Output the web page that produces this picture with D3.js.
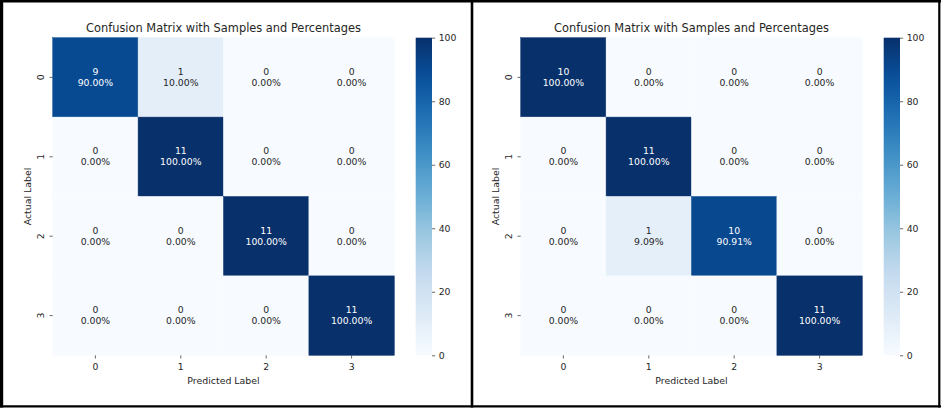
<!DOCTYPE html>
<html>
<head>
<meta charset="utf-8">
<script src="https://cdn.jsdelivr.net/npm/d3@7"></script>
<style>
  body { margin: 0; background: #fff; }
  text { font-family: "DejaVu Sans", sans-serif; fill: #262626; }
</style>
</head>
<body>
<svg width="941" height="411" viewBox="0 0 941 411"></svg>
<script>
// class labels and colorbar ticks
var labels = ["0", "1", "2", "3"];
var colorbarTicks = [0, 20, 40, 60, 80, 100];

// left matrix: sample counts and row percentages
var countsLeft = [
  [9, 1, 0, 0],
  [0, 11, 0, 0],
  [0, 0, 11, 0],
  [0, 0, 0, 11]
];
var pctLeft = [
  [90.00, 10.00, 0, 0],
  [0, 100.00, 0, 0],
  [0, 0, 100.00, 0],
  [0, 0, 0, 100.00]
];

// right matrix
var countsRight = [
  [10, 0, 0, 0],
  [0, 11, 0, 0],
  [0, 1, 10, 0],
  [0, 0, 0, 11]
];
var pctRight = [
  [100.00, 0, 0, 0],
  [0, 100.00, 0, 0],
  [0, 9.09, 90.91, 0],
  [0, 0, 0, 100.00]
];

var svg = d3.select("svg");

// matplotlib "Blues" is a linear ramp through the 9 brewer colours
var blues = d3.schemeBlues[9];
var color = d3.scaleLinear()
  .domain(d3.range(9).map(function(i) { return i * 100 / 8; }))
  .range(blues)
  .interpolate(d3.interpolateRgb);

function drawPanel(offsetX, counts, pcts, id) {
  var g = svg.append("g").attr("transform", "translate(" + offsetX + ",0)");

  var x = d3.scaleBand().domain(labels).range([52.7, 394.3]);
  var y = d3.scaleBand().domain(labels).range([37.7, 355.3]);

  // cells
  var cells = [];
  counts.forEach(function(row, i) {
    row.forEach(function(c, j) {
      cells.push({ r: labels[i], c: labels[j], n: c, p: pcts[i][j] });
    });
  });

  var cell = g.selectAll("g.cell").data(cells).enter().append("g").attr("class", "cell");
  cell.append("rect")
    .attr("x", function(d) { return x(d.c); })
    .attr("y", function(d) { return y(d.r); })
    .attr("width", x.bandwidth())
    .attr("height", y.bandwidth())
    .attr("fill", function(d) { return color(d.p); })
    .attr("stroke", function(d) { return color(d.p); })
    .attr("stroke-width", 0.5);

  function textFill(d) {
    var l = d3.hsl(color(d.p)).l;
    return d.p > 50 ? "#ffffff" : "#262626";
  }

  cell.append("text")
    .attr("x", function(d) { return x(d.c) + x.bandwidth() / 2; })
    .attr("y", function(d) { return y(d.r) + y.bandwidth() / 2 - 2.6; })
    .attr("text-anchor", "middle")
    .style("font-size", "9.3px")
    .style("fill", textFill)
    .text(function(d) { return d.n; });

  cell.append("text")
    .attr("x", function(d) { return x(d.c) + x.bandwidth() / 2; })
    .attr("y", function(d) { return y(d.r) + y.bandwidth() / 2 + 8.4; })
    .attr("text-anchor", "middle")
    .style("font-size", "9.3px")
    .style("fill", textFill)
    .text(function(d) { return d.p.toFixed(2) + "%"; });

  // x ticks
  labels.forEach(function(l) {
    var cx = x(l) + x.bandwidth() / 2;
    g.append("line").attr("x1", cx).attr("x2", cx).attr("y1", 355.3).attr("y2", 358.5)
      .attr("stroke", "#444").attr("stroke-width", 0.8);
    g.append("text").attr("x", cx).attr("y", 370)
      .attr("text-anchor", "middle").style("font-size", "9.3px").text(l);
  });

  // y ticks (rotated)
  labels.forEach(function(l) {
    var cy = y(l) + y.bandwidth() / 2;
    g.append("line").attr("x1", 49.5).attr("x2", 52.7).attr("y1", cy).attr("y2", cy)
      .attr("stroke", "#444").attr("stroke-width", 0.8);
    g.append("text")
      .attr("transform", "translate(44," + cy + ") rotate(-90)")
      .attr("text-anchor", "middle").style("font-size", "9.3px").text(l);
  });

  // axis labels and title
  g.append("text").attr("x", 223.5).attr("y", 384.3)
    .attr("text-anchor", "middle").style("font-size", "9.4px").text("Predicted Label");
  g.append("text")
    .attr("transform", "translate(30.7,196.5) rotate(-90)")
    .attr("text-anchor", "middle").style("font-size", "9.4px").text("Actual Label");
  g.append("text").attr("x", 223.5).attr("y", 32.2)
    .attr("text-anchor", "middle").style("font-size", "11.4px").text("Confusion Matrix with Samples and Percentages");

  // colorbar
  var cbScale = d3.scaleLinear().domain([0, 100]).range([355.3, 37.7]);
  var grad = svg.append("defs").append("linearGradient")
    .attr("id", id).attr("x1", 0).attr("y1", 1).attr("x2", 0).attr("y2", 0);
  d3.range(0, 101, 5).forEach(function(v) {
    grad.append("stop").attr("offset", v + "%").attr("stop-color", color(v));
  });
  g.append("rect").attr("x", 415.7).attr("y", 37.7).attr("width", 16.3)
    .attr("height", 355.3 - 37.7).attr("fill", "url(#" + id + ")");

  var cbAxis = d3.axisRight(cbScale).tickValues(colorbarTicks).tickSize(3.2).tickPadding(3.5);
  var ag = g.append("g").attr("transform", "translate(432,0)").call(cbAxis);
  ag.select(".domain").remove();
  ag.selectAll(".tick line").attr("stroke", "#444").attr("stroke-width", 0.8);
  ag.selectAll(".tick text").style("font-size", "9.3px").style("font-family", "DejaVu Sans").attr("fill", "#262626");
}

drawPanel(0, countsLeft, pctLeft, "gradLeft");
drawPanel(468, countsRight, pctRight, "gradRight");

// frame borders around the two images
var frame = [
  { x1: 0, y1: 1.3, x2: 941, y2: 1.3, w: 2.6 },
  { x1: 1.6, y1: 0, x2: 1.6, y2: 407.6, w: 3.2 },
  { x1: 472, y1: 0, x2: 472, y2: 407.6, w: 2.6 },
  { x1: 939.3, y1: 0, x2: 939.3, y2: 407.6, w: 2.2 },
  { x1: 0, y1: 406.4, x2: 941, y2: 406.4, w: 2.4 }
];
svg.selectAll("line.frame").data(frame).enter().append("line").attr("class", "frame")
  .attr("x1", function(d) { return d.x1; }).attr("y1", function(d) { return d.y1; })
  .attr("x2", function(d) { return d.x2; }).attr("y2", function(d) { return d.y2; })
  .attr("stroke", "#000").attr("stroke-width", function(d) { return d.w; });
</script>
</body>
</html>
